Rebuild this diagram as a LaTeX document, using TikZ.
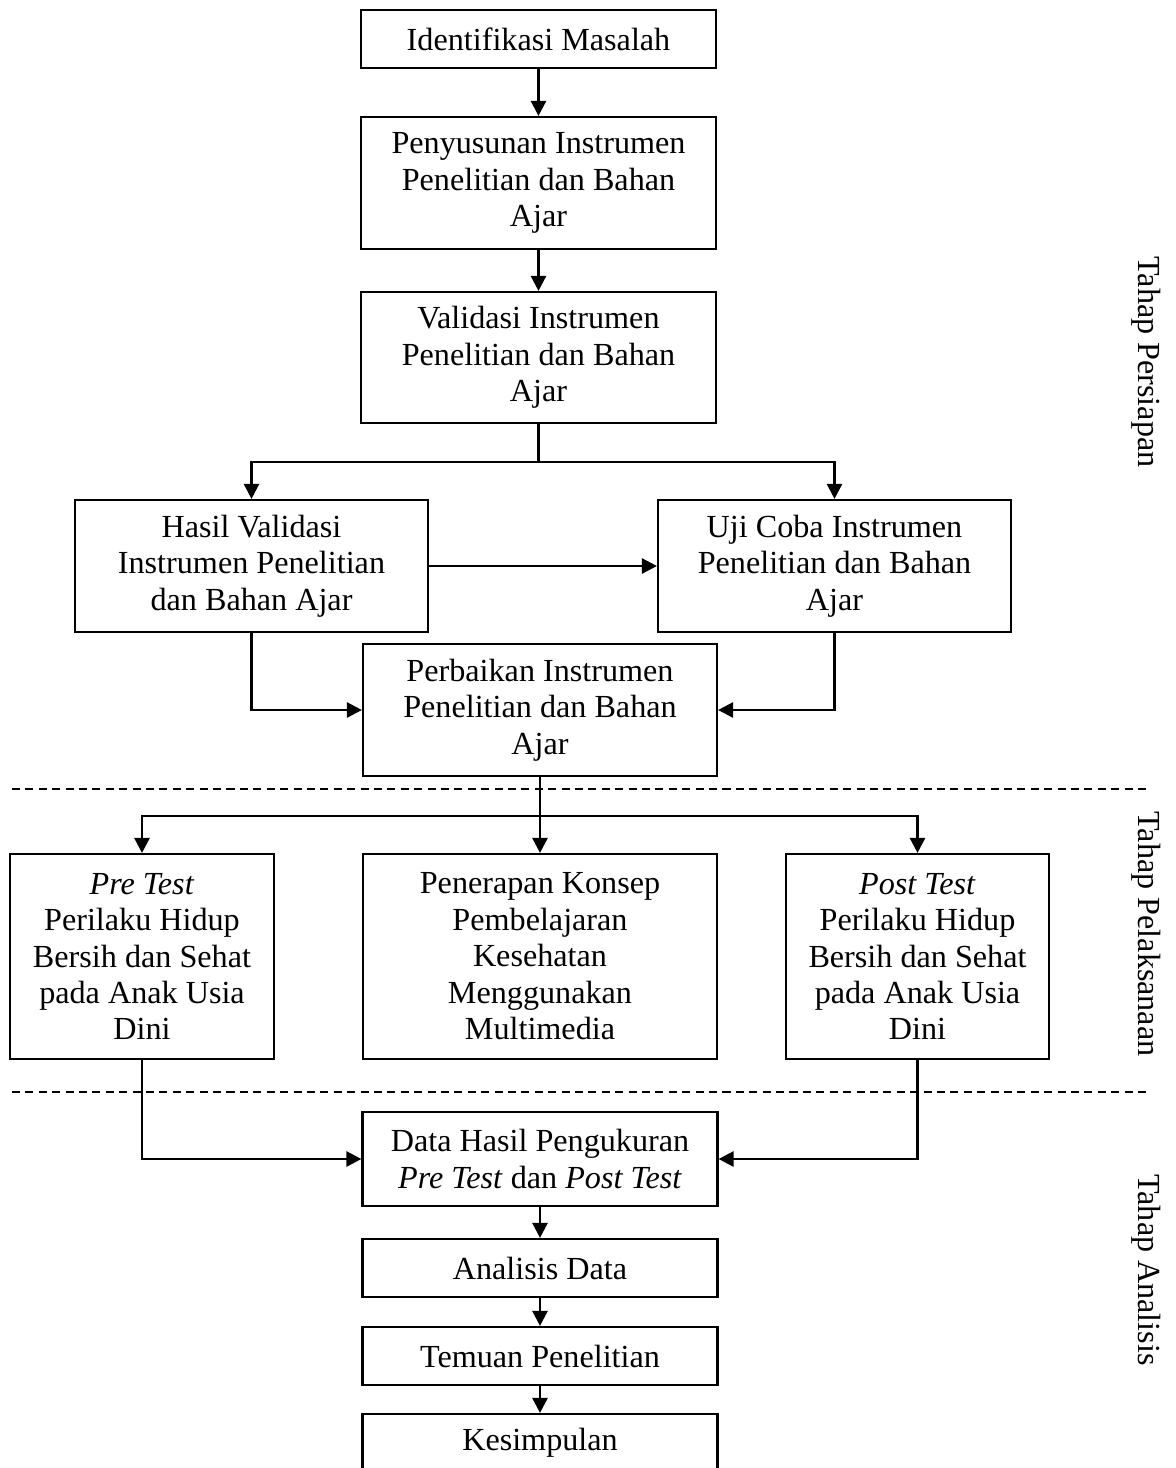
\documentclass[tikz,border=0pt]{standalone}
\usepackage{fontspec}
\setmainfont{Liberation Serif}
\usetikzlibrary{arrows.meta}

\begin{document}
\begin{tikzpicture}[x=0.373pt, y=-0.373pt,
		font=\fontsize{12pt}{13.6pt}\selectfont,
		box/.style 2 args={draw, line width=0.8pt, align=center, inner sep=0pt, minimum width=#1*0.373pt, minimum height=#2*0.373pt},
		arr/.style={line width=0.95pt, -{Triangle[length=5.6pt,width=5.6pt]}},
		phase/.style={dash pattern=on 3pt off 2pt, line width=0.6pt}]
			\useasboundingbox (0,0) rectangle (1176,1468);
			
			\node[box={355}{58}] (idm) at (538.5,39) {Identifikasi Masalah};
			\node[box={355}{132}] (pny) at (538.5,183) {Penyusunan Instrumen\\Penelitian dan Bahan\\Ajar};
			\node[box={355}{131}] (val) at (538.5,357.5) {Validasi Instrumen\\Penelitian dan Bahan\\Ajar};
			
			\node[box={353}{132}] (hsl) at (251.5,566) {Hasil Validasi\\Instrumen Penelitian\\dan Bahan Ajar};
			\node[box={353}{132}] (uji) at (834.5,566) {Uji Coba Instrumen\\Penelitian dan Bahan\\Ajar};
			\node[box={354}{132}] (prb) at (540,710) {Perbaikan Instrumen\\Penelitian dan Bahan\\Ajar};
			
			\node[box={264}{205}] (pre) at (142,956.5) {\textit{Pre Test}\\Perilaku Hidup\\Bersih dan Sehat\\pada Anak Usia\\Dini};
			\node[box={354}{205}] (pnr) at (540,956.5) {Penerapan Konsep\\Pembelajaran\\Kesehatan\\Menggunakan\\Multimedia};
			\node[box={263}{205}] (pst) at (917.5,956.5) {\textit{Post Test}\\Perilaku Hidup\\Bersih dan Sehat\\pada Anak Usia\\Dini};
			
			\node[box={355}{94}] (dat) at (540,1159) {Data Hasil Pengukuran\\\textit{Pre Test} dan \textit{Post Test}};
			\node[box={355}{58}] (ana) at (540,1268) {Analisis Data};
			\node[box={355}{58}] (tem) at (540,1356) {Temuan Penelitian};
			\node[box={355}{58}] (kes) at (540,1443) {Kesimpulan};
			
			\draw[arr] (idm) -- (pny);
			\draw[arr] (pny) -- (val);
			\draw[arr] (val.south) -- ++(0,38) -| (hsl.north);
			\draw[arr] (val.south) -- ++(0,38) -| (uji.north);
			\draw[arr] (hsl) -- (uji);
			\draw[arr] (hsl.south) |- (prb.west);
			\draw[arr] (uji.south) |- (prb.east);
			
			\draw[arr] (prb.south) -- ++(0,39) -| (pre.north);
			\draw[arr] (prb.south) -- ++(0,39) -| (pst.north);
			\draw[arr] (prb) -- (pnr);
			
			\draw[arr] (pre.south) |- (dat.west);
			\draw[arr] (pst.south) |- (dat.east);
			\draw[arr] (dat) -- (ana);
			\draw[arr] (ana) -- (tem);
			\draw[arr] (tem) -- (kes);
			
			\draw[phase] (12,789) -- (1148,789);
			\draw[phase] (12,1092) -- (1148,1092);
			
			\node[rotate=-90] (lbpers) at (1146,362) {Tahap Persiapan};
			\node[rotate=-90] (lbpel) at (1146,934) {Tahap Pelaksanaan};
			\node[rotate=-90] (lbana) at (1146,1270) {Tahap Analisis};
		\end{tikzpicture}
\end{document}
